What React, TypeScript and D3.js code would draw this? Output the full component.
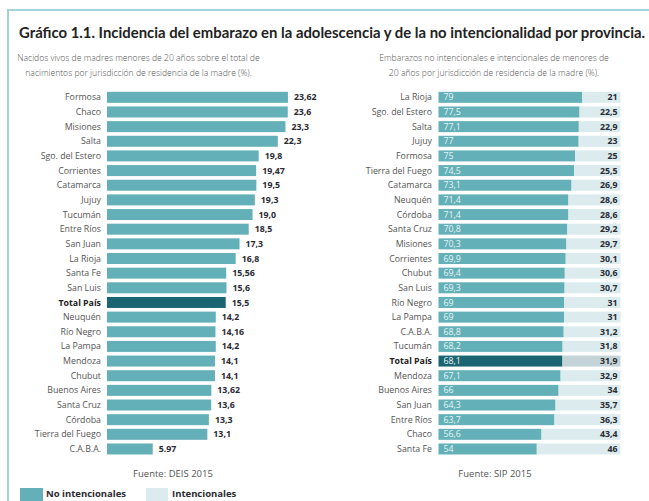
import React from "react";
import * as d3 from "d3";

// Panel izquierdo: nacidos vivos de madres < 20 años (%)
const leftCategories = [
  "Formosa", "Chaco", "Misiones", "Salta", "Sgo. del Estero", "Corrientes",
  "Catamarca", "Jujuy", "Tucumán", "Entre Ríos", "San Juan", "La Rioja",
  "Santa Fe", "San Luis", "Total País", "Neuquén", "Río Negro", "La Pampa",
  "Mendoza", "Chubut", "Buenos Aires", "Santa Cruz", "Córdoba",
  "Tierra del Fuego", "C.A.B.A.",
];
const leftValues = [
  23.62, 23.6, 23.3, 22.3, 19.8, 19.47, 19.5, 19.3, 19.0, 18.5, 17.3, 16.8,
  15.56, 15.6, 15.5, 14.2, 14.16, 14.2, 14.1, 14.1, 13.62, 13.6, 13.3, 13.1,
  5.97,
];
const leftLabels = [
  "23,62", "23,6", "23,3", "22,3", "19,8", "19,47", "19,5", "19,3", "19,0",
  "18,5", "17,3", "16,8", "15,56", "15,6", "15,5", "14,2", "14,16", "14,2",
  "14,1", "14,1", "13,62", "13,6", "13,3", "13,1", "5.97",
];

// Panel derecho: embarazos no intencionales / intencionales (%)
const rightCategories = [
  "La Rioja", "Sgo. del Estero", "Salta", "Jujuy", "Formosa",
  "Tierra del Fuego", "Catamarca", "Neuquén", "Córdoba", "Santa Cruz",
  "Misiones", "Corrientes", "Chubut", "San Luis", "Río Negro", "La Pampa",
  "C.A.B.A.", "Tucumán", "Total País", "Mendoza", "Buenos Aires", "San Juan",
  "Entre Ríos", "Chaco", "Santa Fe",
];
const noIntencionales = [
  79, 77.5, 77.1, 77, 75, 74.5, 73.1, 71.4, 71.4, 70.8, 70.3, 69.9, 69.4, 69.3,
  69, 69, 68.8, 68.2, 68.1, 67.1, 66, 64.3, 63.7, 56.6, 54,
];
const intencionales = [
  21, 22.5, 22.9, 23, 25, 25.5, 26.9, 28.6, 28.6, 29.2, 29.7, 30.1, 30.6, 30.7,
  31, 31, 31.2, 31.8, 31.9, 32.9, 34, 35.7, 36.3, 43.4, 46,
];

const TEAL = "#63b0b8";
const DARK = "#1b6573";
const LIGHT = "#dcecee";
const LIGHT_TOTAL = "#c3d3d8";
const FONT = "'Open Sans', sans-serif";

const fmt = (v: number) => String(v).replace(".", ",");

export default function App() {
  const width = 649;
  const height = 501;

  const yLeft = d3
    .scaleBand<string>()
    .domain(leftCategories)
    .range([90, 456.3])
    .paddingInner(0.25)
    .paddingOuter(0.125);
  const yRight = d3
    .scaleBand<string>()
    .domain(rightCategories)
    .range([90, 456.3])
    .paddingInner(0.25)
    .paddingOuter(0.125);

  const xLeft = d3.scaleLinear().domain([0, 25]).range([107, 298.5]);
  const xRight = d3.scaleLinear().domain([0, 100]).range([438.5, 620.5]);

  const isTotal = (c: string) => c === "Total País";

  return (
    <svg
      width={width}
      height={height}
      style={{ position: "absolute", left: 0, top: 0, background: "#fff" }}
      fontFamily={FONT}
    >
      {/* marco */}
      <path d={`M8,${height} V10 H${width}`} fill="none" stroke="#a3d2d7" strokeWidth={2} />

      <text
        x={19}
        y={38}
        fontSize={15}
        fontWeight={700}
        fill="#222"
        fontFamily="Lato, sans-serif"
        textLength={626}
        lengthAdjust="spacingAndGlyphs"
      >
        Gráfico 1.1. Incidencia del embarazo en la adolescencia y de la no intencionalidad por provincia.
      </text>

      <g fontSize={8.6} fill="#555" textAnchor="middle" fontWeight={300}>
        <text x={138.5} y={61}>Nacidos vivos de madres menores de 20 años sobre el total de</text>
        <text x={138.5} y={76}>nacimientos por jurisdicción de residencia de la madre (%).</text>
        <text x={494} y={61}>Embarazos no intencionales e intencionales de menores de</text>
        <text x={494} y={76}>20 años por jurisdicción de residencia de la madre (%).</text>
      </g>

      {/* panel izquierdo */}
      <g>
        {leftCategories.map((c, i) => {
          const y = yLeft(c)!;
          const h = yLeft.bandwidth();
          const total = isTotal(c);
          return (
            <g key={c}>
              <text
                x={101}
                y={y + h / 2}
                dy="0.35em"
                textAnchor="end"
                fontSize={8.8}
                fontWeight={total ? 700 : 400}
                fill={total ? "#222" : "#555"}
              >
                {c}
              </text>
              <rect
                x={xLeft(0)}
                y={y}
                width={xLeft(leftValues[i]) - xLeft(0)}
                height={h}
                fill={total ? DARK : TEAL}
              />
              <text
                x={xLeft(leftValues[i]) + 6}
                y={y + h / 2}
                dy="0.35em"
                fontSize={8.8}
                fontWeight={700}
                fill="#2a2a33"
              >
                {leftLabels[i]}
              </text>
            </g>
          );
        })}
      </g>

      {/* panel derecho */}
      <g>
        {rightCategories.map((c, i) => {
          const y = yRight(c)!;
          const h = yRight.bandwidth();
          const total = isTotal(c);
          const a = noIntencionales[i];
          const b = intencionales[i];
          return (
            <g key={c}>
              <text
                x={432}
                y={y + h / 2}
                dy="0.35em"
                textAnchor="end"
                fontSize={8.8}
                fontWeight={total ? 700 : 400}
                fill={total ? "#222" : "#555"}
              >
                {c}
              </text>
              <rect
                x={xRight(0)}
                y={y}
                width={xRight(a) - xRight(0)}
                height={h}
                fill={total ? DARK : TEAL}
              />
              <rect
                x={xRight(a)}
                y={y}
                width={xRight(a + b) - xRight(a)}
                height={h}
                fill={total ? LIGHT_TOTAL : LIGHT}
              />
              <text
                x={xRight(0) + 5}
                y={y + h / 2}
                dy="0.35em"
                fontSize={8.8}
                fill="#e8f4f5"
              >
                {fmt(a)}
              </text>
              <text
                x={xRight(100) - 3}
                y={y + h / 2}
                dy="0.35em"
                textAnchor="end"
                fontSize={8.8}
                fontWeight={700}
                fill="#2a2a33"
              >
                {fmt(b)}
              </text>
            </g>
          );
        })}
      </g>

      <g fontSize={9.5} fill="#555" textAnchor="middle">
        <text x={173} y={477}>Fuente: DEIS 2015</text>
        <text x={495} y={477}>Fuente: SIP 2015</text>
      </g>

      {/* leyenda */}
      <rect x={20} y={488} width={23} height={13} fill={TEAL} />
      <text x={46} y={497} fontSize={9.5} fontWeight={700} fill="#2a2a33">No intencionales</text>
      <rect x={146} y={488} width={22} height={13} fill={LIGHT} />
      <text x={172} y={497} fontSize={9.5} fontWeight={700} fill="#2a2a33">Intencionales</text>
    </svg>
  );
}
